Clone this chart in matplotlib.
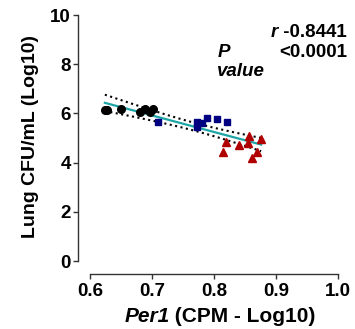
import numpy as np
import matplotlib.pyplot as plt

plt.rcParams['font.family'] = ['Liberation Sans', 'DejaVu Sans']
plt.rcParams['font.weight'] = 'bold'

# Group 1 (black circles)
x_black = [0.624, 0.628, 0.650, 0.681, 0.689, 0.697, 0.702]
y_black = [6.14, 6.12, 6.18, 6.07, 6.18, 6.07, 6.16]
# Group 2 (navy squares)
x_blue = [0.710, 0.773, 0.773, 0.780, 0.789, 0.805, 0.821]
y_blue = [5.65, 5.65, 5.45, 5.60, 5.83, 5.79, 5.65]
# Group 3 (red triangles)
x_red = [0.815, 0.819, 0.840, 0.855, 0.857, 0.861, 0.869, 0.876]
y_red = [4.44, 4.85, 4.72, 4.79, 5.08, 4.18, 4.44, 4.96]

r_text = "-0.8441"
p_text = "<0.0001"

xs = np.array(x_black + x_blue + x_red)
ys = np.array(y_black + y_blue + y_red)

# linear fit and 95% confidence band
slope, intercept = np.polyfit(xs, ys, 1)
n = len(xs)
xf = np.linspace(xs.min(), xs.max(), 100)
yf = slope * xf + intercept
resid = ys - (slope * xs + intercept)
s = np.sqrt(np.sum(resid ** 2) / (n - 2))
se = s * np.sqrt(1 / n + (xf - xs.mean()) ** 2 / np.sum((xs - xs.mean()) ** 2))
ci = 2.086 * se

W, H = 355, 329
fig = plt.figure(figsize=(W / 100, H / 100), dpi=100)
ax = fig.add_axes([90 / W, 1 - 261 / H, 248 / W, 246 / H])

ax.plot(xf, yf + ci, ':', color='black', lw=1.5)
ax.plot(xf, yf - ci, ':', color='black', lw=1.5)
ax.plot(xf, yf, '-', color='#1fa5a5', lw=1.6)

ax.plot(x_black, y_black, 'o', color='black', ms=5.5, clip_on=False)
ax.plot(x_blue, y_blue, 's', color='#000080', ms=5, clip_on=False)
ax.plot(x_red, y_red, '^', color='#b00000', ms=5.5, clip_on=False)

ax.set_xlim(0.6, 1.0)
ax.set_ylim(0, 10)
ax.set_xticks([0.6, 0.7, 0.8, 0.9, 1.0])
ax.set_yticks([0, 2, 4, 6, 8, 10])

for side in ['top', 'right']:
    ax.spines[side].set_visible(False)
ax.spines['left'].set_position(('outward', 8.6))
ax.spines['bottom'].set_position(('outward', 9.4))
for side in ['left', 'bottom']:
    ax.spines[side].set_color('#333333')
    ax.spines[side].set_linewidth(1.0)
ax.tick_params(length=3.5, width=1.0, color='#333333', labelsize=13.5)
ax.tick_params(axis='y', pad=1.5)
ax.tick_params(axis='x', pad=3)

fig.text(31 / W, 1 - 136 / H, "Lung CFU/mL (Log10)", rotation=90, ha='center', va='center',
         fontsize=14)

fig.canvas.draw()
renderer = fig.canvas.get_renderer()


def two_part(x_px, y_px, first, second, size, align='center', va='center'):
    # first part italic bold, second part bold, placed side by side
    t1 = fig.text(0, 0, first, fontsize=size, style='italic', va=va)
    t2 = fig.text(0, 0, second, fontsize=size, va=va)
    w1 = t1.get_window_extent(renderer).width
    w2 = t2.get_window_extent(renderer).width
    total = w1 + w2
    if align == 'center':
        left = x_px - total / 2
    else:
        left = x_px - total
    t1.set_position((left / W, 1 - y_px / H))
    t2.set_position(((left + w1) / W, 1 - y_px / H))


two_part(220, 316, "Per1", " (CPM - Log10)", 15)
two_part(347, 37, "r", " " + r_text, 13.5, align='right', va='baseline')
fig.text(347 / W, 1 - 57 / H, p_text, ha='right', va='baseline', fontsize=13.5)
fig.text(218 / W, 1 - 57 / H, "P", ha='left', va='baseline', fontsize=13.5, style='italic')
fig.text(217 / W, 1 - 76 / H, "value", ha='left', va='baseline', fontsize=13.5, style='italic')

fig.savefig("out.png", dpi=100)
